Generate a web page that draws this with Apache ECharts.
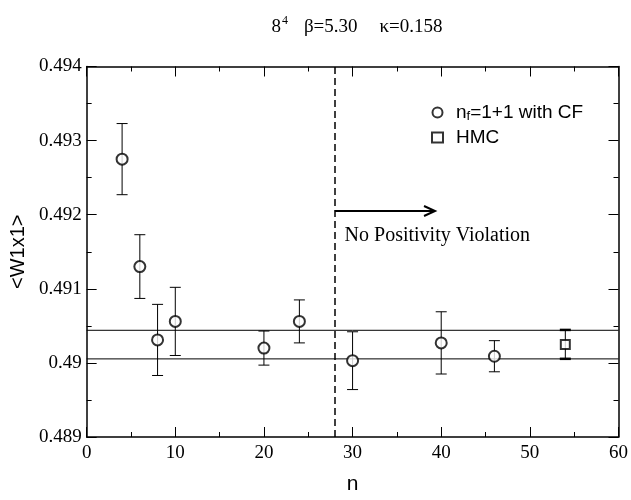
<!DOCTYPE html>
<html>
<head>
<meta charset="utf-8">
<script src="https://cdn.jsdelivr.net/npm/echarts@6/dist/echarts.min.js"></script>
<style>html,body{margin:0;padding:0;background:#fff}#c{width:631px;height:500px}</style>
</head>
<body>
<div id="c"></div>
<script>
// ---- data ----
const nCF   = [4, 6, 8, 10, 20, 24, 30, 40, 46];
const wCF   = [0.49275, 0.49130, 0.49031, 0.49056, 0.49020, 0.49056, 0.49003, 0.49027, 0.49009];
const errCF = [0.00048, 0.00043, 0.00048, 0.00046, 0.00023, 0.00029, 0.00039, 0.00042, 0.00021];
const nHMC   = [54];
const wHMC   = [0.49025];
const errHMC = [0.000195];
const bandLines = [0.49044, 0.490054];
const boundaryN = 28;
const arrowFrom = [28, 0.49205];
const arrowTo   = [39.3, 0.49205];
const noteAt    = [29.1, 0.49171];
const noteText  = 'No Positivity Violation';
const xTicks = [0, 10, 20, 30, 40, 50, 60];
const yTicks = [0.489, 0.490, 0.491, 0.492, 0.493, 0.494];

const serif = 'Liberation Serif';
const sans = 'Liberation Sans';

const cfData = nCF.map((n, i) => [n, wCF[i], errCF[i]]);
const hmcData = nHMC.map((n, i) => [n, wHMC[i], errHMC[i]]);

function errRender(capW, capLW) {
  return function (params, api) {
    const x = api.value(0), y = api.value(1), e = api.value(2);
    const t = api.coord([x, y + e]), b = api.coord([x, y - e]);
    const st = {stroke: '#000', lineWidth: 1};
    const cs = {stroke: '#000', lineWidth: capLW};
    return {type: 'group', children: [
      {type: 'line', shape: {x1: t[0], y1: t[1], x2: b[0], y2: b[1]}, style: st},
      {type: 'line', shape: {x1: t[0] - capW, y1: t[1], x2: t[0] + capW, y2: t[1]}, style: cs},
      {type: 'line', shape: {x1: b[0] - capW, y1: b[1], x2: b[0] + capW, y2: b[1]}, style: cs}
    ]};
  };
}

const xMin = xTicks[0], xMax = xTicks[xTicks.length - 1];
const yMin = yTicks[0], yMax = yTicks[yTicks.length - 1];

function mkX(pos, labels) {
  return {
    type: 'value', position: pos, min: xMin, max: xMax, interval: 10,
    axisLine: {show: true, onZero: false, lineStyle: {color: '#000', width: 1.5}},
    axisTick: {show: true, inside: true, length: 10, lineStyle: {color: '#000', width: 1}},
    minorTick: {show: true, splitNumber: 2, length: 5, lineStyle: {color: '#000', width: 1}},
    splitLine: {show: false},
    axisLabel: {show: labels, color: '#000', fontFamily: serif, fontSize: 19, margin: 7},
    name: labels ? 'n' : '', nameLocation: 'middle', nameGap: 37,
    nameTextStyle: {color: '#000', fontFamily: sans, fontSize: 21}
  };
}
function mkY(pos, labels) {
  return {
    type: 'value', position: pos, min: yMin, max: yMax, interval: 0.001,
    axisLine: {show: true, onZero: false, lineStyle: {color: '#000', width: 1.5}},
    axisTick: {show: true, inside: true, length: 10, lineStyle: {color: '#000', width: 1}},
    minorTick: {show: true, splitNumber: 2, length: 5, lineStyle: {color: '#000', width: 1}},
    splitLine: {show: false},
    axisLabel: {show: labels, color: '#000', fontFamily: serif, fontSize: 19, margin: 5,
      formatter: v => String(Math.round(v * 1000) / 1000)},
    name: labels ? '<W1x1>' : '', nameLocation: 'middle', nameGap: 48, nameRotate: 90,
    nameTextStyle: {color: '#000', fontFamily: sans, fontSize: 20}
  };
}

const chart = echarts.init(document.getElementById('c'), null, {renderer: 'canvas'});
chart.setOption({
  animation: false,
  backgroundColor: '#fff',
  title: {
    text: '{b|8}{s|4}{g|}{b|β=5.30}{h|}{b|κ=0.158}',
    left: 352, top: 10, textAlign: 'center',
    textStyle: {
      fontWeight: 'normal',
      rich: {
        b: {fontFamily: serif, fontSize: 19, fontWeight: 'normal', color: '#000', verticalAlign: 'bottom'},
        s: {fontFamily: serif, fontSize: 12, fontWeight: 'normal', color: '#000', verticalAlign: 'top', padding: [0, 0, 10, 1]},
        g: {width: 16},
        h: {width: 22}
      }
    }
  },
  grid: {left: 84.5, right: 12.5, top: 66.5, bottom: 60.5, containLabel: false},
  xAxis: [mkX('bottom', true), mkX('top', false)],
  yAxis: [mkY('left', true), mkY('right', false)],
  legend: {
    orient: 'vertical', left: 431, top: 103, itemGap: 5, padding: 0,
    itemWidth: 11, itemHeight: 10,
    data: [
      {name: 'CF', icon: 'emptyCircle'},
      {name: 'HMC', icon: 'emptyRect'}
    ],
    textStyle: {
      color: '#000', fontFamily: sans, fontSize: 19, padding: [0, 0, 0, 8],
      rich: {
        a: {fontFamily: sans, fontSize: 19, color: '#000'},
        sub: {fontFamily: sans, fontSize: 13, color: '#000', verticalAlign: 'bottom', padding: [8, 0, 0, 0]}
      }
    },
    formatter: name => name === 'CF' ? '{a|n}{sub|f}{a|=1+1 with CF}' : '{a|HMC}'
  },
  series: bandLines.map(v => ({
      type: 'line', data: [[xMin, v], [xMax, v]], silent: true, symbol: 'none',
      lineStyle: {color: '#000', width: 1}, z: 1
    })).concat([
    {
      type: 'line', data: [], silent: true,
      markLine: {
        silent: true, symbol: ['none', 'none'], label: {show: false},
        data: [{xAxis: boundaryN, lineStyle: {color: '#000', width: 1.5, type: [7, 4]}}]
      }
    },
    {
      type: 'custom', name: 'errCF', data: cfData, encode: {x: 0, y: 1},
      renderItem: errRender(5.5, 1), z: 3
    },
    {
      type: 'custom', name: 'errHMC', data: hmcData, encode: {x: 0, y: 1},
      renderItem: errRender(5.5, 2.5), z: 3
    },
    {
      type: 'scatter', name: 'CF', data: nCF.map((n, i) => [n, wCF[i]]),
      symbol: 'emptyCircle', symbolSize: 11,
      itemStyle: {color: '#000', borderColor: '#000', borderWidth: 1}, z: 5
    },
    {
      type: 'scatter', name: 'HMC', data: nHMC.map((n, i) => [n, wHMC[i]]),
      symbol: 'emptyRect', symbolSize: 9,
      itemStyle: {color: '#000', borderColor: '#000', borderWidth: 1}, z: 5
    },
    {
      type: 'custom', name: 'note', silent: true,
      data: [[arrowFrom[0], arrowFrom[1], arrowTo[0], arrowTo[1], noteAt[0], noteAt[1]]],
      encode: {x: [0, 2], y: [1, 3]},
      renderItem: function (params, api) {
        const a = api.coord([api.value(0), api.value(1)]);
        const b = api.coord([api.value(2), api.value(3)]);
        const t = api.coord([api.value(4), api.value(5)]);
        return {type: 'group', children: [
          {type: 'line', shape: {x1: a[0], y1: a[1], x2: b[0] - 1, y2: b[1]}, style: {stroke: '#000', lineWidth: 2}},
          {type: 'polyline', shape: {points: [[b[0] - 11, b[1] - 5], [b[0], b[1]], [b[0] - 11, b[1] + 5]]},
            style: {stroke: '#000', lineWidth: 2, fill: null}},
          {type: 'text', x: t[0], y: t[1], style: {text: noteText, fill: '#000',
            font: '20px "Liberation Serif"', textAlign: 'left', textVerticalAlign: 'middle'}}
        ]};
      }, z: 4
    }
  ])
});
</script>
</body>
</html>
